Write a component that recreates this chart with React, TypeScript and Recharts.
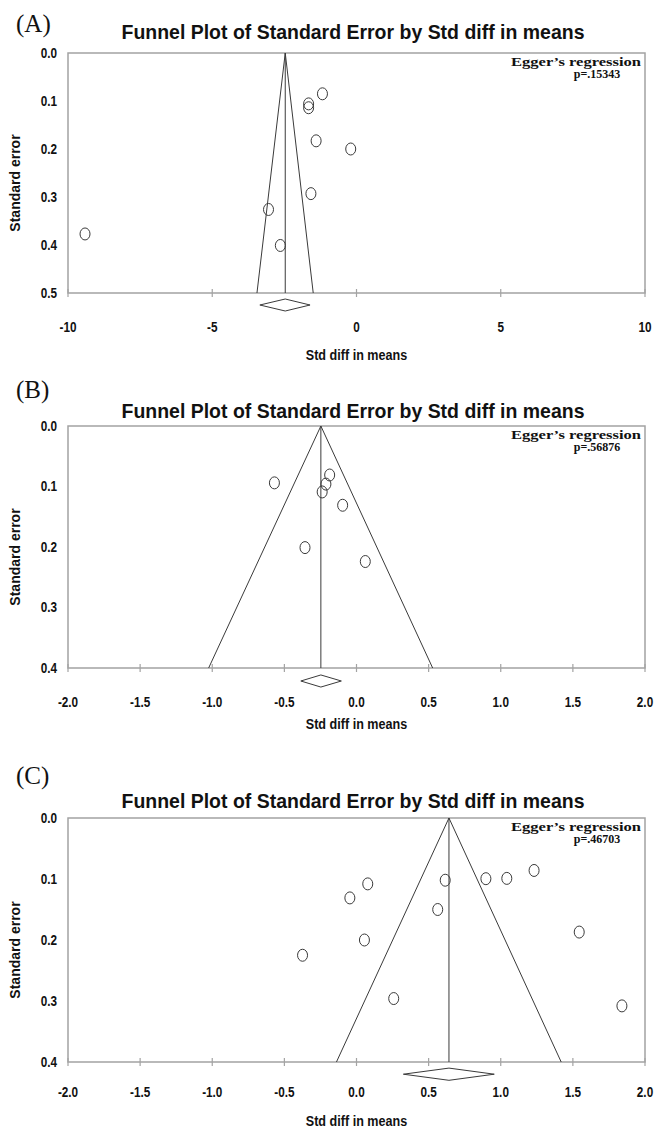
import React from "react";
import { ComposedChart, ReferenceArea, ReferenceLine, Scatter, XAxis, YAxis } from "recharts";

// Panel A
const diffA = [-1.18, -1.66, -1.66, -1.40, -0.20, -1.58, -3.05, -9.41, -2.64];
const seA = [0.085, 0.106, 0.114, 0.183, 0.200, 0.293, 0.326, 0.377, 0.401];
const xTicksA = [-10, -5, 0, 5, 10];
const yTicksA = [0, 0.1, 0.2, 0.3, 0.4, 0.5];
const funnelA = [-3.45, -2.47, -1.50]; // left foot, mean, right foot
const diamondA = [-3.35, -2.47, -1.61];
const pA = "p=.15343";

// Panel B
const diffB = [-0.569, -0.186, -0.212, -0.238, -0.096, -0.357, 0.061];
const seB = [0.094, 0.081, 0.096, 0.109, 0.131, 0.201, 0.224];
const xTicksB = [-2, -1.5, -1, -0.5, 0, 0.5, 1, 1.5, 2];
const yTicksB = [0, 0.1, 0.2, 0.3, 0.4];
const funnelB = [-1.025, -0.247, 0.528];
const diamondB = [-0.386, -0.247, -0.105];
const pB = "p=.56876";

// Panel C
const diffC = [-0.046, 0.078, 0.615, 0.897, 1.042, 1.231, 0.563, 1.544, 0.055, -0.374, 0.258, 1.840];
const seC = [0.131, 0.108, 0.102, 0.0995, 0.099, 0.086, 0.150, 0.187, 0.200, 0.225, 0.296, 0.308];
const xTicksC = [-2, -1.5, -1, -0.5, 0, 0.5, 1, 1.5, 2];
const yTicksC = [0, 0.1, 0.2, 0.3, 0.4];
const funnelC = [-0.139, 0.641, 1.419];
const diamondC = [0.325, 0.641, 0.955];
const pC = "p=.46703";

const W = 657;
const FRAME = "#a3a3a3";
const INK = "#3a3a3a";
const NARROW = "'Liberation Sans Narrow', 'Arial Narrow', 'Liberation Sans', Arial, sans-serif";
const SANS = "'Liberation Sans', Arial, sans-serif";
const SERIF = "'Liberation Serif', 'Times New Roman', serif";
const SQUEEZE = 0.84; // no narrow font installed, so squeeze bold sans horizontally

type PanelProps = {
  letter: string;
  diffs: number[];
  ses: number[];
  xTicks: number[];
  yTicks: number[];
  funnel: number[];
  diamond: number[];
  diamondY: number[]; // centre, half height (in SE units, below axis)
  pValue: string;
  xFmt: (v: number) => string;
  top: number;
  height: number;
  plotTop: number;
  plotBottom: number;
  letterY: number;
  titleY: number;
  tickGap: number;
  xLabelY: number;
};

const Circle = (props: any) => {
  const { cx, cy } = props;
  if (cx == null || cy == null) return null;
  return <ellipse cx={cx} cy={cy} rx={5} ry={6} fill="none" stroke={INK} strokeWidth={1} />;
};

// bold narrow-looking label
const Narrow = ({ x, y, anchor, size = 14, children }: any) => (
  <g transform={`translate(${x} ${y}) scale(${SQUEEZE} 1)`}>
    <text x={0} y={0} textAnchor={anchor} dominantBaseline="central" fontFamily={NARROW}
      fontWeight="bold" fontSize={size} fill="#111">
      {children}
    </text>
  </g>
);

const Panel = (p: PanelProps) => {
  const data = p.diffs.map((d, i) => ({ x: d, y: p.ses[i] }));
  const xMin = p.xTicks[0];
  const xMax = p.xTicks[p.xTicks.length - 1];
  const seMax = p.yTicks[p.yTicks.length - 1];
  const [dl, dm, dr] = p.diamond;
  const [dc, dh] = p.diamondY;
  const plotLeft = 68;
  const plotRight = 645;
  const midX = (plotLeft + plotRight) / 2;
  const midY = (p.plotTop + p.plotBottom) / 2;

  const xTick = (t: any) => (
    <g>
      <line x1={t.x} x2={t.x} y1={t.y - 4} y2={t.y + 4} stroke={FRAME} strokeWidth={1.2} />
      <Narrow x={t.x} y={t.y + p.tickGap} anchor="middle">{p.xFmt(t.payload.value)}</Narrow>
    </g>
  );
  const yTick = (t: any) => (
    <Narrow x={t.x - 11} y={t.y} anchor="end">{Number(t.payload.value).toFixed(1)}</Narrow>
  );

  const seg = (a: { x: number; y: number }, b: { x: number; y: number }, k: string, color = INK) => (
    <ReferenceLine key={k} segment={[a, b]} stroke={color} strokeWidth={1} ifOverflow="visible" />
  );

  return (
    <div style={{ position: "absolute", left: 0, top: p.top, width: W, height: p.height }}>
      <ComposedChart
        width={W}
        height={p.height}
        data={data}
        margin={{ top: p.plotTop, right: W - plotRight, bottom: p.height - p.plotBottom - 40, left: 0 }}
      >
        <XAxis type="number" dataKey="x" domain={[xMin, xMax]} ticks={p.xTicks} interval={0}
          height={40} axisLine={false} tickLine={false} tickSize={0} tickMargin={0} tick={xTick} />
        <YAxis type="number" dataKey="y" domain={[0, seMax]} ticks={p.yTicks} interval={0} reversed
          width={plotLeft} axisLine={false} tickLine={false} tickSize={0} tickMargin={0} tick={yTick} />
        <ReferenceArea x1={xMin} x2={xMax} y1={0} y2={seMax} fill="none" stroke={FRAME} strokeWidth={1.5} ifOverflow="visible" />
        {seg({ x: p.funnel[1], y: 0 }, { x: p.funnel[0], y: seMax }, "fl")}
        {seg({ x: p.funnel[1], y: 0 }, { x: p.funnel[2], y: seMax }, "fr")}
        {seg({ x: p.funnel[1], y: 0 }, { x: p.funnel[1], y: seMax }, "fm")}
        {seg({ x: dl, y: dc }, { x: dm, y: dc - dh }, "d1")}
        {seg({ x: dm, y: dc - dh }, { x: dr, y: dc }, "d2")}
        {seg({ x: dr, y: dc }, { x: dm, y: dc + dh }, "d3")}
        {seg({ x: dm, y: dc + dh }, { x: dl, y: dc }, "d4")}
        <Scatter data={data} dataKey="y" shape={Circle} isAnimationActive={false} />
      </ComposedChart>
      <svg width={W} height={p.height} style={{ position: "absolute", left: 0, top: 0, pointerEvents: "none" }}>
        <text x={16} y={p.letterY} fontFamily={SERIF} fontSize={25} fill="#111">{p.letter}</text>
        <text x={353} y={p.titleY} textAnchor="middle" fontFamily={NARROW} fontWeight="bold" fontSize={21}
          fill="#111" textLength={463} lengthAdjust="spacingAndGlyphs">
          Funnel Plot of Standard Error by Std diff in means
        </text>
        <text x={641} y={p.plotTop + 13} textAnchor="end" fontFamily={SERIF} fontWeight="bold" fontSize={12}
          fill="#111" textLength={130} lengthAdjust="spacingAndGlyphs">
          Egger’s regression
        </text>
        <text x={597} y={p.plotTop + 25} textAnchor="middle" fontFamily={SERIF} fontWeight="bold" fontSize={12} fill="#111">
          {p.pValue}
        </text>
        <Narrow x={midX} y={p.xLabelY} anchor="middle" size={15}>Std diff in means</Narrow>
        <text x={15} y={midY + 10} textAnchor="middle" dominantBaseline="central" fontFamily={SANS}
          fontWeight="bold" fontSize={14} fill="#111" transform={`rotate(-90 15 ${midY + 10})`}>
          Standard error
        </text>
      </svg>
    </div>
  );
};

const fmtInt = (v: number) => String(v);
const fmtDec = (v: number) => v.toFixed(1);

export default function App() {
  return (
    <div style={{ position: "absolute", left: 0, top: 0, width: W, height: 1132, background: "#fff" }}>
      <Panel letter="(A)" diffs={diffA} ses={seA} xTicks={xTicksA} yTicks={yTicksA} funnel={funnelA}
        diamond={diamondA} diamondY={[0.525, 0.0125]} pValue={pA} xFmt={fmtInt}
        top={0} height={370} plotTop={53} plotBottom={293} letterY={32} titleY={39} tickGap={34} xLabelY={355} />
      <Panel letter="(B)" diffs={diffB} ses={seB} xTicks={xTicksB} yTicks={yTicksB} funnel={funnelB}
        diamond={diamondB} diamondY={[0.4215, 0.01]} pValue={pB} xFmt={fmtDec}
        top={370} height={385} plotTop={56} plotBottom={298} letterY={28} titleY={48} tickGap={34} xLabelY={354} />
      <Panel letter="(C)" diffs={diffC} ses={seC} xTicks={xTicksC} yTicks={yTicksC} funnel={funnelC}
        diamond={diamondC} diamondY={[0.42, 0.01]} pValue={pC} xFmt={fmtDec}
        top={760} height={372} plotTop={58} plotBottom={302} letterY={24} titleY={48} tickGap={30} xLabelY={361} />
    </div>
  );
}
